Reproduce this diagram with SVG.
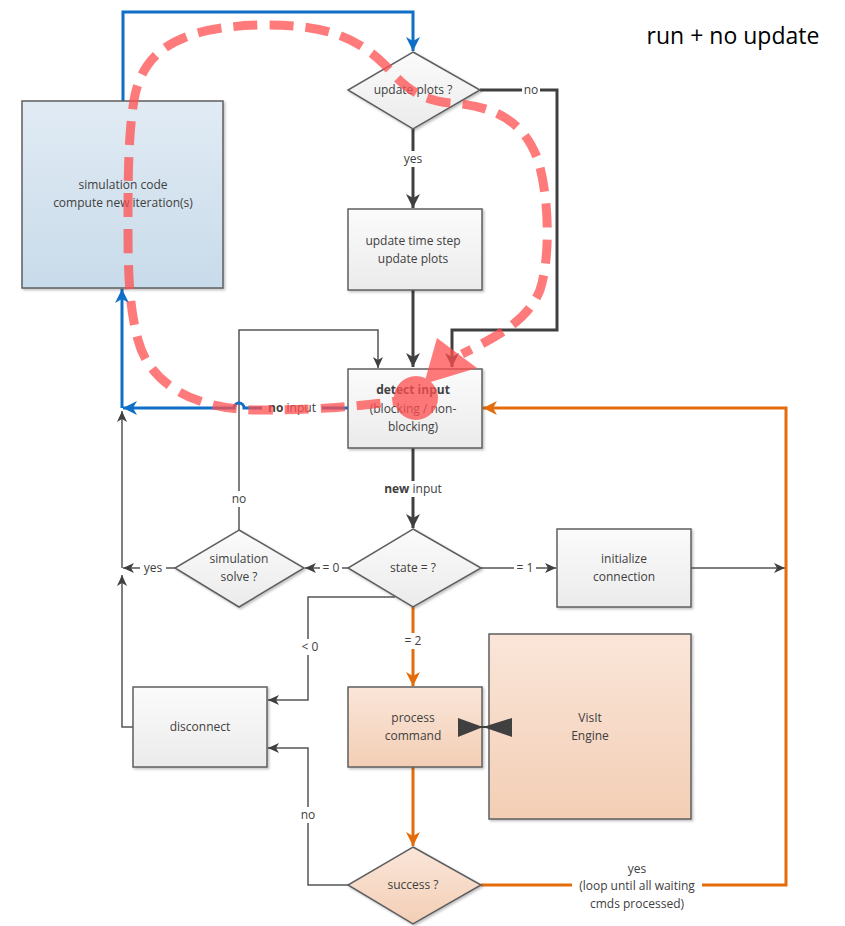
<svg xmlns="http://www.w3.org/2000/svg" width="845" height="926" viewBox="0 0 845 926">
<defs>
<linearGradient id="gGray" x1="0" y1="0" x2="0" y2="1"><stop offset="0" stop-color="#fbfbfb"/><stop offset="1" stop-color="#ebebeb"/></linearGradient>
<linearGradient id="gBlue" x1="0" y1="0" x2="0" y2="1"><stop offset="0" stop-color="#e1ebf4"/><stop offset="1" stop-color="#c8dbea"/></linearGradient>
<linearGradient id="gOrange" x1="0" y1="0" x2="0" y2="1"><stop offset="0" stop-color="#fae6d9"/><stop offset="1" stop-color="#f3ceb5"/></linearGradient>
<filter id="sh" x="-10%" y="-10%" width="125%" height="125%"><feDropShadow dx="1.5" dy="1.5" stdDeviation="1.2" flood-color="#000" flood-opacity="0.25"/></filter>
<marker id="aDark" markerUnits="userSpaceOnUse" markerWidth="16" markerHeight="16" refX="14" refY="8" orient="auto"><path d="M0,1 L14,8 L0,15 L4,8 Z" fill="#404040"/></marker>
<marker id="aThin" markerUnits="userSpaceOnUse" markerWidth="12" markerHeight="12" refX="11" refY="6" orient="auto"><path d="M0,1 L11,6 L0,11 L3,6 Z" fill="#404040"/></marker>
<marker id="aBlue" markerUnits="userSpaceOnUse" markerWidth="16" markerHeight="16" refX="14" refY="8" orient="auto"><path d="M0,1 L14,8 L0,15 L4,8 Z" fill="#0f6fc6"/></marker>
<marker id="aOrange" markerUnits="userSpaceOnUse" markerWidth="16" markerHeight="16" refX="14" refY="8" orient="auto"><path d="M0,1 L14,8 L0,15 L4,8 Z" fill="#e46c0a"/></marker>
</defs>
<style>
.box{stroke:#5f5f5f;stroke-width:1.5;filter:url(#sh)}
.gray{fill:url(#gGray)}
.blue{fill:url(#gBlue)}
.orange{fill:url(#gOrange)}
text{font-family:"Open Sans","Liberation Sans",sans-serif;font-size:12px;fill:#404040;text-anchor:middle}
.b{font-weight:bold}
.thick{fill:none;stroke:#404040;stroke-width:3}
.thin{fill:none;stroke:#555;stroke-width:1.5}
.bl{fill:none;stroke:#0f6fc6;stroke-width:3}
.or{fill:none;stroke:#e46c0a;stroke-width:3}
.lbl{fill:#fff}
</style>
<rect width="845" height="926" fill="#fff"/>

<g id="connectors">
<path class="bl" d="M123,101 V12 H413 V51" marker-end="url(#aBlue)"/>
<path class="thick" d="M480,90 H557 V330 H452 V367" marker-end="url(#aDark)"/>
<path class="thick" d="M413,129 V208" marker-end="url(#aDark)"/>
<path class="thick" d="M413,290 V367" marker-end="url(#aDark)"/>
<path class="thin" d="M239,530 V330 H378 V368" marker-end="url(#aThin)"/>
<path class="bl" d="M348,408 H244 A5,5 0 0 0 234,408 H123" marker-end="url(#aBlue)"/>
<path class="bl" d="M122,408 V289" marker-end="url(#aBlue)"/>
<path class="thick" d="M413,448 V528" marker-end="url(#aDark)"/>
<path class="thin" d="M133,727 H122 V575" marker-end="url(#aThin)"/>
<path class="thin" d="M122,568 V411" marker-end="url(#aThin)"/>
<path class="thin" d="M175,568 H123" marker-end="url(#aThin)"/>
<path class="thin" d="M348,568 H305" marker-end="url(#aThin)"/>
<path class="thin" d="M481,568 H556" marker-end="url(#aThin)"/>
<path class="thin" d="M691,568 H785" marker-end="url(#aThin)"/>
<path class="thin" d="M395,597 H308 V700 H268" marker-end="url(#aThin)"/>
<path class="or" d="M413,607 V686" marker-end="url(#aOrange)"/>
<path class="or" d="M413,767 V846" marker-end="url(#aOrange)"/>
<path class="thin" d="M348,885 H308 V748 H268" marker-end="url(#aThin)"/>
<path class="or" d="M481,885 H786 V408 H483" marker-end="url(#aOrange)"/>
</g>

<g id="labels">
<rect class="lbl" x="522" y="83" width="18" height="14"/><text x="531" y="94">no</text>
<rect class="lbl" x="400" y="151" width="26" height="16"/><text x="413" y="163">yes</text>
<rect class="lbl" x="262" y="400" width="60" height="16"/><text x="292" y="412"><tspan class="b">no</tspan> input</text>
<rect class="lbl" x="382" y="481" width="62" height="16"/><text x="413" y="493"><tspan class="b">new</tspan> input</text>
<rect class="lbl" x="229" y="491" width="20" height="16"/><text x="239" y="503">no</text>
<rect class="lbl" x="140" y="561" width="26" height="15"/><text x="153" y="572">yes</text>
<rect class="lbl" x="320" y="561" width="22" height="15"/><text x="331" y="572">= 0</text>
<rect class="lbl" x="514" y="561" width="22" height="15"/><text x="525" y="572">= 1</text>
<rect class="lbl" x="298" y="639" width="22" height="16"/><text x="310" y="651">&lt; 0</text>
<rect class="lbl" x="402" y="633" width="22" height="16"/><text x="413" y="645">= 2</text>
<rect class="lbl" x="298" y="807" width="20" height="16"/><text x="308" y="819">no</text>
<rect class="lbl" x="572" y="876" width="130" height="16"/>
<text x="637" y="873">yes</text>
<text x="637" y="890">(loop until all waiting</text>
<text x="637" y="908">cmds processed)</text>
</g>

<g id="sim-code"><rect class="box blue" x="22" y="101" width="201" height="187"/><text x="123" y="189">simulation code</text><text x="123" y="207">compute new iteration(s)</text></g>
<g id="update-plots"><polygon class="box gray" points="413,52 480,90 413,129 348,90"/><text x="413" y="94">update plots ?</text></g>
<g id="update-time"><rect class="box gray" x="348" y="209" width="134" height="81"/><text x="413" y="245">update time step</text><text x="413" y="263">update plots</text></g>
<g id="detect-input"><rect class="box gray" x="348" y="369" width="134" height="79"/><text x="413" y="394" class="b">detect input</text><text x="413" y="413">(blocking / non-</text><text x="413" y="431">blocking)</text></g>
<g id="sim-solve"><polygon class="box gray" points="239,530 304,568 239,607 175,568"/><text x="239" y="563">simulation</text><text x="239" y="581">solve ?</text></g>
<g id="state"><polygon class="box gray" points="413,529 481,568 413,607 348,568"/><text x="413" y="572">state = ?</text></g>
<g id="init-conn"><rect class="box gray" x="557" y="529" width="134" height="78"/><text x="624" y="563">initialize</text><text x="624" y="581">connection</text></g>
<g id="disconnect"><rect class="box gray" x="133" y="687" width="134" height="80"/><text x="200" y="731">disconnect</text></g>
<g id="process-cmd"><rect class="box orange" x="348" y="687" width="134" height="80"/><text x="413" y="722">process</text><text x="413" y="740">command</text></g>
<g id="visit-engine"><rect class="box orange" x="489" y="634" width="202" height="185"/><text x="590" y="722">VisIt</text><text x="590" y="740">Engine</text></g>
<g id="success"><polygon class="box orange" points="413,847 481,885 413,924 348,885"/><text x="413" y="889">success ?</text></g>
<g id="bowtie" fill="#404040">
<path d="M458,718 L483,727 L458,737 Z"/>
<path d="M512,718 L483,727 L512,737 Z"/>
<path d="M458,727 H512" stroke="#404040" stroke-width="2"/>
</g>

<g id="flow-overlay" opacity="0.75">
<path d="M416,398 C380,404 330,410 260,410 C195,410 150,385 138,340 C130,310 128,280 128,230 C128,180 128,130 135,95 C145,50 180,27 260,25 C320,24 355,35 385,65 C405,88 420,100 450,103 C500,106 525,125 538,160 C550,200 550,260 540,290 C528,320 500,335 462,354" fill="none" stroke="#ff4f4f" stroke-width="9" stroke-dasharray="24 12"/>
<polygon points="437,338 477,368 424,384" fill="#ff4f4f"/>
<circle cx="416" cy="398" r="22" fill="#ff4f4f"/>
</g>

<text x="733" y="44" style="font-size:23px;fill:#000">run + no update</text>
</svg>
